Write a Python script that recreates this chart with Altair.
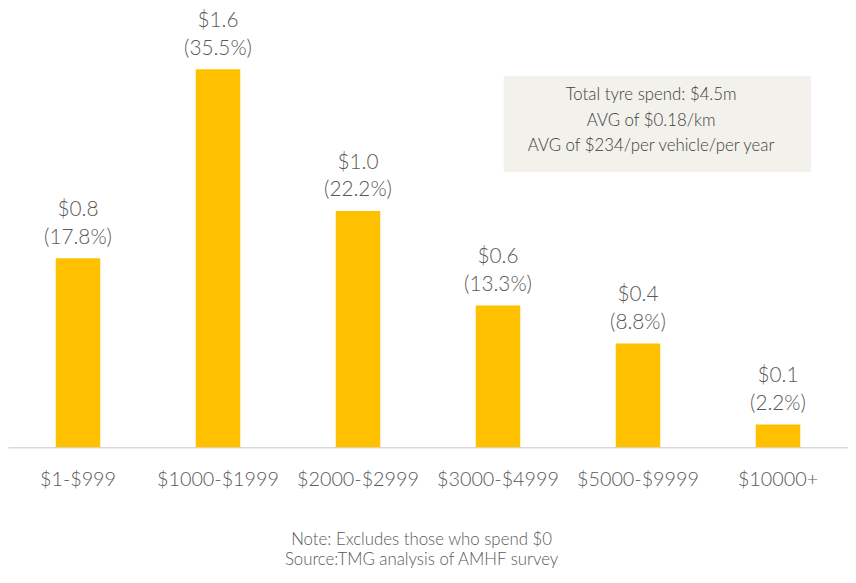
import altair as alt
import pandas as pd

categories = ["$1-$999", "$1000-$1999", "$2000-$2999", "$3000-$4999", "$5000-$9999", "$10000+"]
spend_m = [0.8, 1.6, 1.0, 0.6, 0.44, 0.097]
value_labels = ["$0.8", "$1.6", "$1.0", "$0.6", "$0.4", "$0.1"]
pct_labels = ["(17.8%)", "(35.5%)", "(22.2%)", "(13.3%)", "(8.8%)", "(2.2%)"]
box_lines = ["Total tyre spend: $4.5m", "AVG of $0.18/km", "AVG of $234/per vehicle/per year"]
note_lines = ["Note: Excludes those who spend $0", "Source:TMG analysis of AMHF survey"]

df = pd.DataFrame({"cat": categories, "v": spend_m, "lab": value_labels, "pct": pct_labels})

FONT = "Lato"
GREY = "#595959"
W = 300

x = alt.X("cat:N", sort=categories, title=None,
          scale=alt.Scale(paddingInner=0, paddingOuter=0),
          axis=alt.Axis(labelAngle=0, ticks=False, labelPadding=23, labelFontSize=20,
                        labelColor=GREY, labelFont=FONT, labelFontWeight=W,
                        domainColor="#d9d9d9", domainWidth=1.5))
y = alt.Y("v:Q", title=None, scale=alt.Scale(domain=[0, 1.847], nice=False), axis=None)

base = alt.Chart(df)
bars = base.mark_bar(size=45, color="#FFC000").encode(x=x, y=y)
t1 = base.mark_text(fontSize=21, font=FONT, fontWeight=W, color=GREY, baseline="middle", dy=-49).encode(x=x, y=y, text="lab:N")
t2 = base.mark_text(fontSize=21, font=FONT, fontWeight=W, color=GREY, baseline="middle", dy=-21).encode(x=x, y=y, text="pct:N")

box_df = pd.DataFrame({"k": [0]})
box = alt.Chart(box_df).mark_rect(color="#F2F1EC").encode(
    x=alt.value(501), x2=alt.value(812), y=alt.value(66), y2=alt.value(163))

bl_df = pd.DataFrame({"t": ["\n".join(box_lines)]})
box_text = alt.Chart(bl_df).mark_text(fontSize=17, font=FONT, fontWeight=W, color="#404040",
                                      baseline="top", lineBreak="\n", lineHeight=26).encode(
    x=alt.value(650), y=alt.value(77), text="t:N")

nl_df = pd.DataFrame({"t": ["\n".join(note_lines)]})
note_text = alt.Chart(nl_df).mark_text(fontSize=17, font=FONT, fontWeight=W, color=GREY,
                                       baseline="top", lineBreak="\n", lineHeight=20).encode(
    x=alt.value(418), y=alt.value(527), text="t:N")

chart = alt.layer(box, box_text, bars, t1, t2, note_text).properties(
    width=849, height=441,
    autosize=alt.AutoSizeParams(type="none"),
    padding={"left": 0, "top": 0, "right": 0, "bottom": 126},
).configure_view(stroke=None)

chart.save("out.html", embed_options={"renderer": "svg", "actions": False})
